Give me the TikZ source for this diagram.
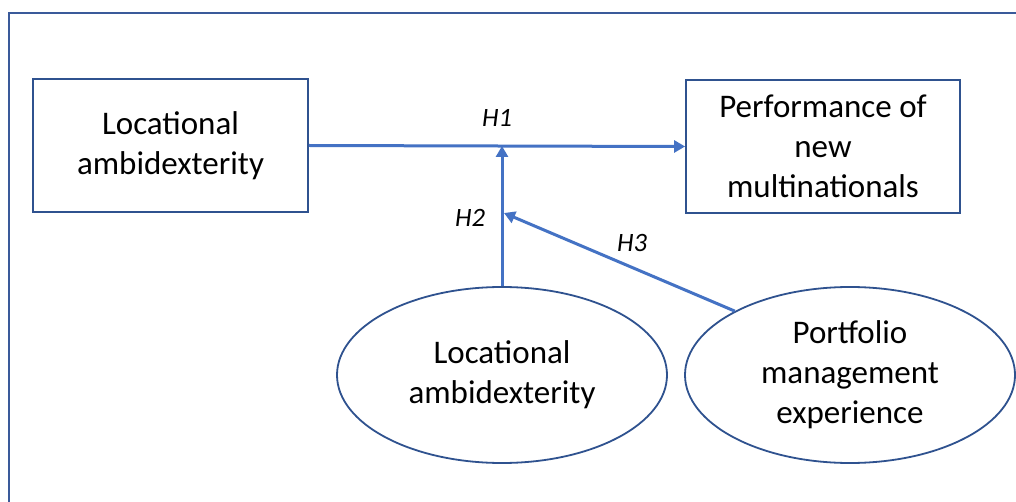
\documentclass[tikz,border=0pt]{standalone}
\usepackage{fontspec}
\setmainfont{Carlito}
\usetikzlibrary{arrows.meta,shapes.geometric}
\definecolor{boxblue}{HTML}{2F528F}
\definecolor{arrblue}{HTML}{4472C4}
\definecolor{frameblue}{HTML}{3A5A9A}
\begin{document}
\begin{tikzpicture}[x=1pt,y=-1pt,
  frameline/.style={draw=frameblue,line width=2.8pt},
  rbox/.style={draw=boxblue,line width=1.8pt,align=center,inner sep=0pt,
    font=\fontsize{33}{40}\selectfont},
  ebox/.style={ellipse,draw=boxblue,line width=1.8pt,align=center,inner sep=0pt,
    font=\fontsize{33}{40}\selectfont,minimum width=330pt,minimum height=176pt},
  arr/.style={draw=arrblue,line width=3pt,-{Triangle[length=11pt,width=12pt]}},
  hlab/.style={font=\fontsize{26.5}{30}\selectfont\itshape}]
\useasboundingbox (0,0) rectangle (1016,502);
\fill[white] (0,0) rectangle (1016,502);
\draw[frameline] (9,502) -- (9,13) -- (1016,13);
\node[rbox,minimum width=275pt,minimum height=133pt] (la) at (170.5,145.5) {Locational\\ambidexterity};
\node[rbox,minimum width=274pt,minimum height=133pt] (perf) at (823,146.5) {Performance of\\new\\multinationals};
\node[ebox] (e1) at (502,375) {Locational\\ambidexterity};
\node[ebox] (e2) at (850,375) {Portfolio\\management\\experience};
\coordinate (j1) at (502,146);
\coordinate (j2) at (504,213);
\draw[arr] (la.east) -- (perf.west);
\draw[arr] (e1.north) -- (j1);
\draw[arr] (e2.151) -- (j2);
\node[hlab] (h1) at (497,118) {H1};
\node[hlab] (h2) at (470,218) {H2};
\node[hlab] (h3) at (632,243) {H3};
\end{tikzpicture}
\end{document}
